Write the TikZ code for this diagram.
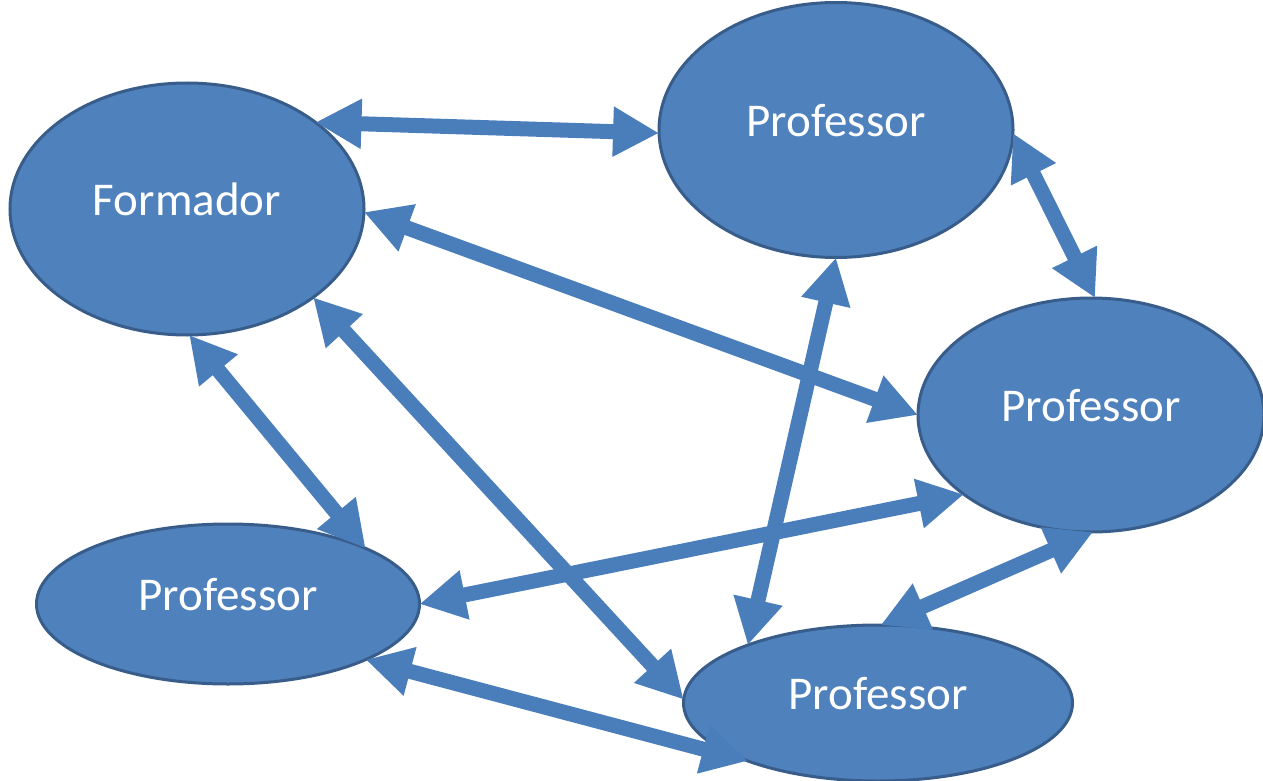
\documentclass[tikz,border=0pt]{standalone}
\usepackage{fontspec}
\setmainfont{Carlito}
\usetikzlibrary{shapes.geometric,arrows.meta}
\definecolor{bubble}{HTML}{4F81BD}
\definecolor{rim}{HTML}{385D8A}
\definecolor{link}{HTML}{4A7EBB}
\tikzset{
  role/.style={ellipse, draw=rim, line width=3pt, fill=bubble, text=white,
    inner sep=0pt, outer sep=0pt, text depth=20pt,
    font=\fontsize{47}{56}\selectfont},
  twoway/.style={draw=link, line width=15pt,
    {Triangle[length=46pt,width=47pt,fill=link]}-{Triangle[length=46pt,width=47pt,fill=link]}}
}
\begin{document}
\begin{tikzpicture}[x=1pt,y=-1pt]
\useasboundingbox (0,0) rectangle (1263,781);
% the five participants
\node[role, minimum width=354pt, minimum height=252pt] (form)  at (187,209)  {Formador};
\node[role, minimum width=354pt, minimum height=255pt] (ptop)  at (836,130)  {Professor};
\node[role, minimum width=346pt, minimum height=234pt] (pright) at (1091,415) {Professor};
\node[role, minimum width=383pt, minimum height=160pt] (pbl)   at (228,604)  {Professor};
\node[role, minimum width=389pt, minimum height=156pt] (pbot)  at (878,703)  {Professor};
% two-way links between them
\draw[twoway] (form.34.6) -- (ptop.181);
\draw[twoway] (ptop.-1.6) -- (pright.88);
\draw[twoway] (form.-1) -- (pright.180.7);
\draw[twoway] (form.-89.5) -- (pbl.22.9);
\draw[twoway] (form.-35.5) -- (pbot.179.5);
\draw[twoway] (ptop.-90.4) -- (pbot.156.9);
\draw[twoway] (pright.212) -- (pbl.0.3);
\draw[twoway] (pright.-89) -- (pbot.88.5);
\draw[twoway] (pbl.-22.2) -- (pbot.204.7);
\end{tikzpicture}
\end{document}
